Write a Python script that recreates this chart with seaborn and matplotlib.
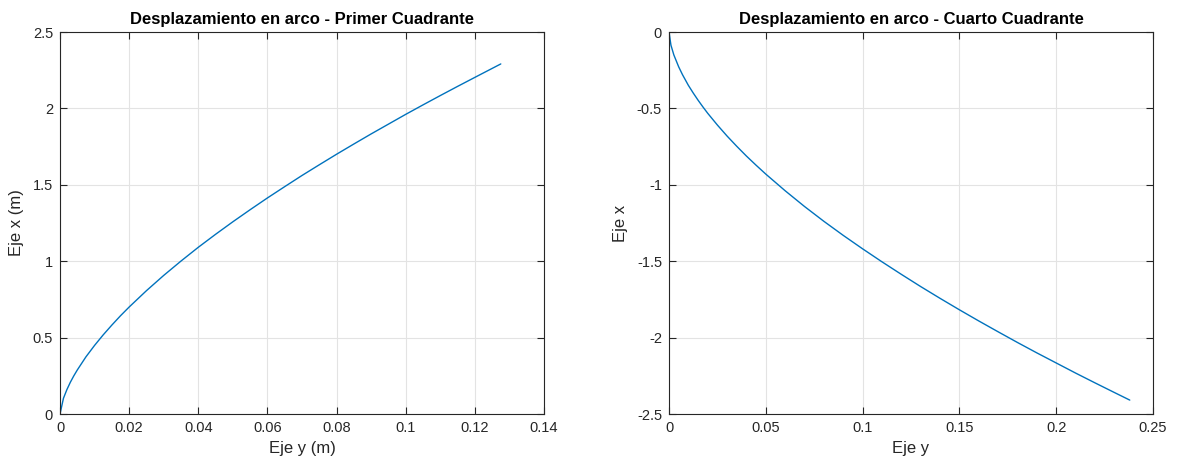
import matplotlib
matplotlib.use("Agg")
import matplotlib.pyplot as plt
import seaborn as sns
import pandas as pd

# Primer cuadrante: desplazamiento horizontal (y) y vertical (x), en metros
q1_y = [0.0, 0.001, 0.002, 0.003, 0.004, 0.005, 0.0075, 0.01, 0.0125, 0.015,
        0.0175, 0.02, 0.025, 0.03, 0.035, 0.04, 0.045, 0.05, 0.055, 0.06,
        0.065, 0.07, 0.075, 0.08, 0.085, 0.09, 0.095, 0.10, 0.105, 0.11,
        0.115, 0.12, 0.1275]
q1_x = [0.0, 0.103, 0.160, 0.208, 0.250, 0.288, 0.374, 0.449, 0.518, 0.582,
        0.643, 0.700, 0.807, 0.907, 1.001, 1.091, 1.176, 1.258, 1.337, 1.414,
        1.488, 1.561, 1.631, 1.700, 1.767, 1.833, 1.897, 1.961, 2.023, 2.084,
        2.144, 2.203, 2.291]

# Cuarto cuadrante
q4_y = [0.0, 0.001, 0.0025, 0.005, 0.007, 0.01, 0.0125, 0.015, 0.0175, 0.02,
        0.025, 0.03, 0.035, 0.04, 0.045, 0.05, 0.06, 0.07, 0.08, 0.09,
        0.10, 0.11, 0.12, 0.13, 0.14, 0.15, 0.16, 0.17, 0.18, 0.19,
        0.20, 0.21, 0.22, 0.23, 0.238]
q4_x = [0.0, -0.086, -0.150, -0.228, -0.280, -0.349, -0.399, -0.446, -0.490, -0.532,
        -0.609, -0.681, -0.748, -0.812, -0.872, -0.930, -1.039, -1.142, -1.239, -1.331,
        -1.419, -1.504, -1.586, -1.666, -1.743, -1.818, -1.891, -1.962, -2.032, -2.100,
        -2.166, -2.232, -2.296, -2.359, -2.409]

left_xticks = [0, 0.02, 0.04, 0.06, 0.08, 0.1, 0.12, 0.14]
left_yticks = [0, 0.5, 1, 1.5, 2, 2.5]
right_xticks = [0, 0.05, 0.1, 0.15, 0.2, 0.25]
right_yticks = [-2.5, -2, -1.5, -1, -0.5, 0]

sns.set_theme(style="whitegrid")
plt.rcParams["font.family"] = ["Liberation Sans", "DejaVu Sans"]

LINE = "#0072BD"
DARK = "#262626"

fig = plt.figure(figsize=(11.8, 4.66), dpi=100)
ax1 = fig.add_axes([60 / 1180, 1 - 414 / 466, 484 / 1180, 382 / 466])
ax2 = fig.add_axes([669 / 1180, 1 - 414 / 466, 484 / 1180, 382 / 466])

df1 = pd.DataFrame({"y": q1_y, "x": q1_x})
df4 = pd.DataFrame({"y": q4_y, "x": q4_x})

sns.lineplot(data=df1, x="y", y="x", ax=ax1, color=LINE, linewidth=1.0,
             sort=False, estimator=None)
sns.lineplot(data=df4, x="y", y="x", ax=ax2, color=LINE, linewidth=1.0,
             sort=False, estimator=None)


def style_axes(ax, xticks, yticks, xlim, ylim, title, xlabel, ylabel):
    ax.set_xlim(*xlim)
    ax.set_ylim(*ylim)
    ax.set_xticks(xticks)
    ax.set_yticks(yticks)
    ax.set_xticklabels([f"{t:g}" for t in xticks])
    ax.set_yticklabels([f"{t:g}" for t in yticks])
    ax.set_facecolor("white")
    ax.grid(True, color="#e3e3e3", linewidth=0.8)
    for s in ax.spines.values():
        s.set_visible(True)
        s.set_color(DARK)
        s.set_linewidth(0.8)
    ax.tick_params(axis="both", direction="in", length=5, width=0.8,
                   colors=DARK, labelsize=10.5, top=True, right=True,
                   bottom=True, left=True, pad=5)
    ax.set_title(title, fontsize=12, fontweight="bold", color="black", pad=6)
    ax.set_xlabel(xlabel, fontsize=12, color=DARK, labelpad=4)
    ax.set_ylabel(ylabel, fontsize=12, color=DARK, labelpad=6)


style_axes(ax1, left_xticks, left_yticks, (0, 0.14), (0, 2.5),
           "Desplazamiento en arco - Primer Cuadrante", "Eje y (m)", "Eje x (m)")
style_axes(ax2, right_xticks, right_yticks, (0, 0.25), (-2.5, 0),
           "Desplazamiento en arco - Cuarto Cuadrante", "Eje y", "Eje x")

fig.savefig("out.png", dpi=100, facecolor="white")
